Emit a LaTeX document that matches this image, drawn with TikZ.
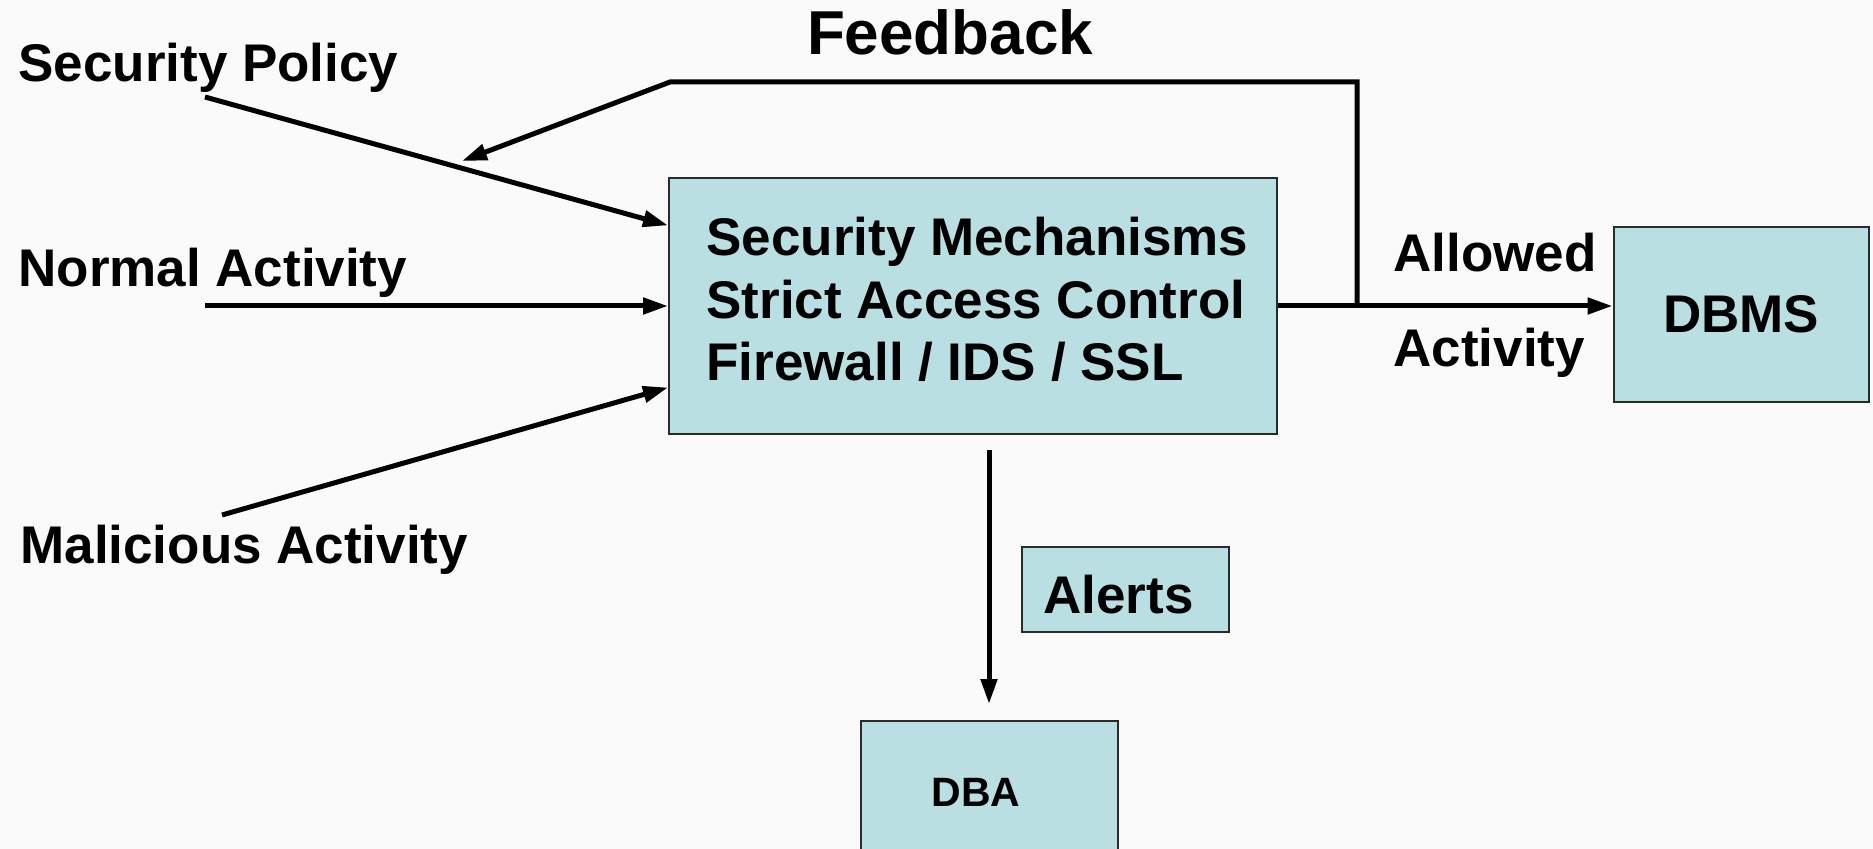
\documentclass[tikz,border=0pt]{standalone}
\usepackage{fontspec}
\setmainfont{Liberation Sans}
\usetikzlibrary{arrows.meta,calc}
\definecolor{boxfill}{HTML}{BADFE3}
\definecolor{paper}{HTML}{FAFAFA}
\definecolor{edge}{HTML}{2A2A2A}
\begin{document}
\begin{tikzpicture}[x=0.5pt,y=-0.5pt,
  blk/.style={draw=edge, line width=1pt, fill=boxfill, inner sep=0pt},
  lbl/.style={inner sep=0pt, font=\bfseries\fontsize{26.5}{31.25}\selectfont},
  flow/.style={line width=2.5pt, -{Triangle[length=12.5pt,width=8pt]}},
]
\fill[paper] (0,0) rectangle (1873,849);
\useasboundingbox (0,0) rectangle (1873,849);
\clip (0,0) rectangle (1873,849);

% boxes
\node[blk, minimum width=304pt, minimum height=128pt] (mech) at (973,306) {};
\node[blk, lbl, minimum width=127.75pt, minimum height=87.65pt] (dbms) at (1741.25,314.35) {DBMS};
\node[blk, minimum width=103.65pt, minimum height=42.65pt] (alerts) at (1125.35,589.35) {};
\node[blk, minimum width=128.5pt, minimum height=70pt] (dba) at (989.2,791) {};

% texts
\node[lbl, anchor=base west] (mechtext) at (706,256) {\begin{tabular}[t]{@{}l@{}}Security Mechanisms\\Strict Access Control\\Firewall / IDS / SSL\end{tabular}};
\node[lbl, anchor=base west] (alertstext) at (1043,613) {Alerts};
\node[inner sep=0pt, font=\bfseries\fontsize{20.5}{24}\selectfont, anchor=base west] (dbatext) at (931,806) {DBA};
\node[lbl, anchor=base west] (sp) at (18,82) {Security Policy};
\node[lbl, anchor=base west] (na) at (18,287) {Normal Activity};
\node[lbl, anchor=base west] (ma) at (20,563) {Malicious Activity};
\node[lbl, anchor=base west] (allowed) at (1393,272) {Allowed};
\node[lbl, anchor=base west] (activity) at (1393,367) {Activity};
\node[inner sep=0pt, font=\bfseries\fontsize{31}{36}\selectfont, anchor=base] (feedback) at (950,55) {Feedback};

% free ends of the connectors
\coordinate (spstart) at (205,97);
\coordinate (nastart) at (205,306);
\coordinate (mastart) at (222,515);
\coordinate (fbtop) at (1357,82);
\coordinate (fbleft) at (670,82);
\coordinate (fbtip) at (462,161);
\coordinate (dnstart) at (989,450);

% inputs
\draw[flow] (spstart) -- ($(mech.north west)!0.1875!(mech.south west)$);
\draw[flow] (nastart) -- (nastart -| mech.west);
\draw[flow] (mastart) -- ($(mech.north west)!0.816!(mech.south west)$);

% allowed activity and feedback
\draw[flow] (mech.east) -- (mech.east -| dbms.west);
\draw[flow] (mech.east -| fbtop) -- (fbtop) -- (fbleft) -- (fbtip);

% alerts to the administrator
\draw[flow, shorten >=8pt] (dnstart) -- (dnstart |- dba.north);
\end{tikzpicture}
\end{document}
